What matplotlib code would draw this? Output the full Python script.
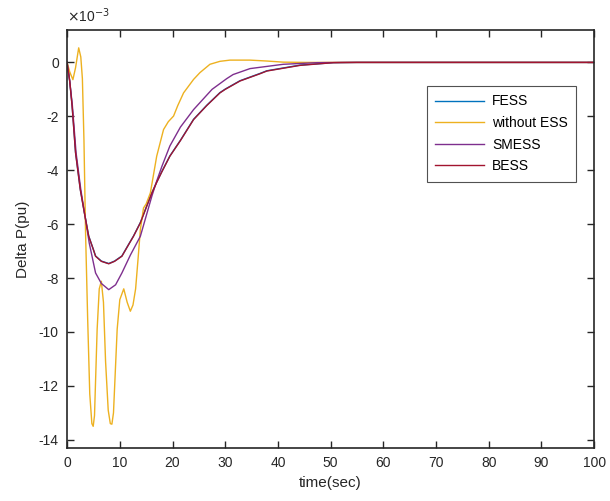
import matplotlib
matplotlib.use("Agg")
import matplotlib.pyplot as plt

plt.rcParams["font.family"] = ["Liberation Sans", "DejaVu Sans"]

# values in units of 1e-3 pu
t_noess = [0, 0.5, 1.1, 1.6, 2.2, 2.6, 2.9, 3.2, 3.5, 3.9, 4.3, 4.7, 4.95, 5.2, 5.7, 6.1,
           6.5, 6.9, 7.3, 7.8, 8.2, 8.5, 8.8, 9.5, 10.0, 10.75, 11.4, 12.0, 12.5, 13.0,
           13.5, 13.9, 14.5, 15.0, 15.8, 17.0, 18.3, 19.2, 20.2, 21.0, 22.1, 24.0, 25.2,
           27.1, 29.0, 30.9, 34.7, 38.0, 41.0, 45.0, 100]
p_noess = [0, -0.35, -0.64, -0.2, 0.54, 0.2, -0.6, -2.9, -6.3, -9.5, -12.3, -13.4, -13.5,
           -13.1, -9.9, -8.4, -8.12, -8.9, -11.1, -12.9, -13.4, -13.42, -13.0, -9.9, -8.8,
           -8.4, -8.9, -9.23, -9.0, -8.4, -7.2, -6.2, -5.4, -5.25, -4.84, -3.48, -2.49,
           -2.2, -1.99, -1.6, -1.13, -0.63, -0.38, -0.07, 0.04, 0.085, 0.085, 0.05, 0.01,
           0.0, 0.0]

t_bess = [0, 0.5, 0.95, 1.6, 2.5, 3.3, 4.1, 5.0, 5.4, 6.5, 7.9, 9.0, 10.4, 11.7, 12.6,
          13.9, 15.1, 16.1, 17.0, 18.0, 19.5, 21.5, 24.0, 26.5, 29.0, 30.0, 32.8, 36.6,
          37.9, 44.2, 50.5, 55.0, 100]
p_bess = [0, -0.7, -1.62, -3.35, -4.72, -5.6, -6.45, -6.95, -7.19, -7.38, -7.47, -7.38,
          -7.19, -6.75, -6.45, -5.95, -5.34, -4.84, -4.45, -4.05, -3.48, -2.9, -2.12,
          -1.6, -1.13, -1.0, -0.69, -0.42, -0.32, -0.11, -0.01, 0.0, 0.0]

t_fess = t_bess
p_fess = [0, -0.7, -1.6, -3.33, -4.7, -5.6, -6.44, -6.95, -7.18, -7.37, -7.46, -7.37,
          -7.18, -6.74, -6.44, -5.94, -5.33, -4.83, -4.44, -4.04, -3.47, -2.89, -2.11,
          -1.59, -1.12, -0.99, -0.68, -0.41, -0.31, -0.1, -0.01, 0.0, 0.0]

t_smess = [0, 0.5, 1.0, 1.7, 2.6, 3.4, 4.2, 5.4, 6.5, 7.9, 9.2, 10.4, 12.0, 13.9, 16.1,
           17.0, 18.0, 19.5, 21.5, 24.0, 27.5, 30.3, 31.5, 34.7, 41.0, 47.4, 52.0, 100]
p_smess = [0, -0.7, -1.6, -3.35, -4.72, -5.7, -6.7, -7.81, -8.2, -8.43, -8.25, -7.81,
           -7.15, -6.45, -4.95, -4.4, -3.85, -3.1, -2.4, -1.75, -1.0, -0.6, -0.45, -0.23,
           -0.07, -0.01, 0.0, 0.0]

xticks = list(range(0, 101, 10))
yticks = [0, -2, -4, -6, -8, -10, -12, -14]

fig = plt.figure(figsize=(6.1, 5.01), dpi=100)
ax = fig.add_axes([0.110, 0.106, 0.864, 0.834])

ax.plot(t_fess, p_fess, color="#0072BD", lw=1.0, label="FESS")
ax.plot(t_noess, p_noess, color="#EDB120", lw=1.0, label="without ESS")
ax.plot(t_smess, p_smess, color="#7E2F8E", lw=1.0, label="SMESS")
ax.plot(t_bess, p_bess, color="#A2142F", lw=1.0, label="BESS")

ax.set_xlim(0, 100)
ax.set_ylim(-14.3, 1.2)
ax.set_xticks(xticks)
ax.set_yticks(yticks)
ax.set_yticklabels([str(v) for v in yticks])
ax.tick_params(direction="in", top=True, right=True, length=5, width=1.0,
               labelsize=10, colors="#262626", pad=6)
for s in ax.spines.values():
    s.set_color("#262626")
    s.set_linewidth(1.2)

ax.set_xlabel("time(sec)", fontsize=11, color="#262626", labelpad=4)
ax.set_ylabel("Delta P(pu)", fontsize=11, color="#262626", labelpad=6)
ax.text(0.0, 1.012, r"$\times$10$^{-3}$", transform=ax.transAxes, fontsize=10,
        color="#262626", ha="left", va="bottom")

leg = ax.legend(loc="upper right", bbox_to_anchor=(0.966, 0.866), fontsize=10,
                frameon=True, fancybox=False, edgecolor="#262626", handlelength=3.5,
                borderpad=0.6, labelspacing=0.55, handletextpad=0.6, borderaxespad=0)
leg.get_frame().set_linewidth(0.8)

fig.savefig("out.png", dpi=100)
